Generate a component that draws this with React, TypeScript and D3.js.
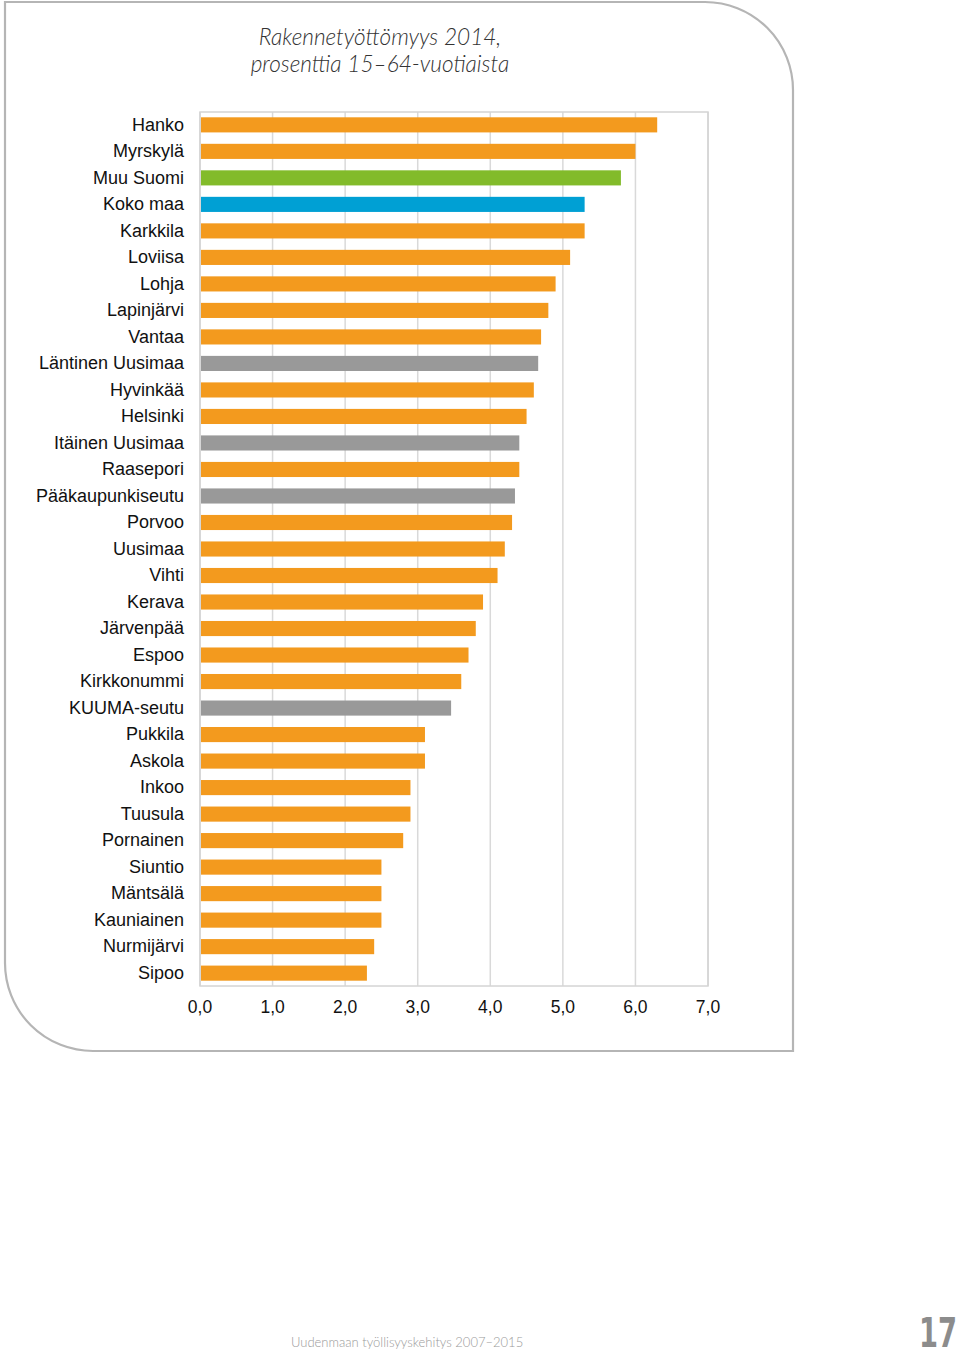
import React from "react";
import * as d3 from "d3";

const categories = [
  "Hanko", "Myrskylä", "Muu Suomi", "Koko maa", "Karkkila", "Loviisa", "Lohja",
  "Lapinjärvi", "Vantaa", "Läntinen Uusimaa", "Hyvinkää", "Helsinki",
  "Itäinen Uusimaa", "Raasepori", "Pääkaupunkiseutu", "Porvoo", "Uusimaa",
  "Vihti", "Kerava", "Järvenpää", "Espoo", "Kirkkonummi", "KUUMA-seutu",
  "Pukkila", "Askola", "Inkoo", "Tuusula", "Pornainen", "Siuntio", "Mäntsälä",
  "Kauniainen", "Nurmijärvi", "Sipoo",
];
const values = [
  6.3, 6.0, 5.8, 5.3, 5.3, 5.1, 4.9, 4.8, 4.7, 4.66, 4.6, 4.5, 4.4, 4.4, 4.34,
  4.3, 4.2, 4.1, 3.9, 3.8, 3.7, 3.6, 3.46, 3.1, 3.1, 2.9, 2.9, 2.8, 2.5, 2.5,
  2.5, 2.4, 2.3,
];
// group per bar: m = municipality, s = rest of Finland, k = whole country, r = region
const groups = [
  "m", "m", "s", "k", "m", "m", "m", "m", "m", "r", "m", "m", "r", "m", "r",
  "m", "m", "m", "m", "m", "m", "m", "r", "m", "m", "m", "m", "m", "m", "m",
  "m", "m", "m",
];
const xTicks = [0, 1, 2, 3, 4, 5, 6, 7];
const titleLines = ["Rakennetyöttömyys 2014,", "prosenttia 15–64-vuotiaista"];
const footerText = "Uudenmaan työllisyyskehitys 2007–2015";
const pageNumber = "17";

const colorOf: Record<string, string> = {
  m: "#f39a1e",
  s: "#82bb2a",
  k: "#00a0d4",
  r: "#999999",
};

export default function App() {
  const W = 960;
  const H = 1352;
  const left = 200;
  const right = 708;
  const top = 112;
  const bottom = 986;

  const x = d3.scaleLinear().domain([0, 7]).range([left, right]);
  const y = d3
    .scaleBand<string>()
    .domain(categories)
    .range([top, bottom])
    .paddingInner(0.43)
    .paddingOuter(0.2);

  // frame: rounded top-right and bottom-left corners
  const r = 88;
  const fx0 = 5, fy0 = 2, fx1 = 793, fy1 = 1051;
  const framePath = `M${fx0},${fy0} L${fx1 - r},${fy0} A${r},${r} 0 0 1 ${fx1},${fy0 + r} L${fx1},${fy1} L${fx0 + r},${fy1} A${r},${r} 0 0 1 ${fx0},${fy1 - r} Z`;

  const sans = "'Liberation Sans', Arial, sans-serif";

  return (
    <svg
      width={W}
      height={H}
      style={{ position: "absolute", left: 0, top: 0, background: "#fff" }}
    >
      <path d={framePath} fill="none" stroke="#b5b5b5" strokeWidth={2.2} />

      {titleLines.map((t, i) => (
        <text
          key={i}
          x={380}
          y={45 + i * 27}
          textAnchor="middle"
          fontFamily="Lato, 'Open Sans', sans-serif"
          fontStyle="italic"
          fontWeight={300}
          fontSize={22.6}
          fill="#333"
        >
          {t}
        </text>
      ))}

      {/* gridlines */}
      {xTicks.map((t) => (
        <line
          key={t}
          x1={x(t)}
          x2={x(t)}
          y1={top}
          y2={bottom}
          stroke="#d9d9d9"
          strokeWidth={1.5}
        />
      ))}
      <rect
        x={left}
        y={top}
        width={right - left}
        height={bottom - top}
        fill="none"
        stroke="#d4d4d4"
        strokeWidth={1.5}
      />

      {/* bars */}
      {categories.map((c, i) => (
        <rect
          key={c}
          x={x(0) + 1}
          y={y(c)}
          width={x(values[i]) - x(0) - 1}
          height={y.bandwidth()}
          fill={colorOf[groups[i]]}
        />
      ))}

      {/* category labels */}
      {categories.map((c) => (
        <text
          key={c}
          x={184}
          y={(y(c) ?? 0) + y.bandwidth() / 2 - 0.5}
          dy="0.35em"
          textAnchor="end"
          fontFamily={sans}
          fontSize={18}
          fill="#111"
        >
          {c}
        </text>
      ))}

      {/* x tick labels */}
      {xTicks.map((t) => (
        <text
          key={t}
          x={x(t)}
          y={1013}
          textAnchor="middle"
          fontFamily={sans}
          fontSize={17.5}
          fill="#111"
        >
          {d3.format(".1f")(t).replace(".", ",")}
        </text>
      ))}

      <text
        x={291}
        y={1347}
        fontFamily="Lato, 'Open Sans', sans-serif"
        fontWeight={300}
        fontSize={13}
        fill="#9a9a9a"
      >
        {footerText}
      </text>
      <text
        x={919}
        y={1347}
        fontFamily="'DejaVu Sans Condensed', 'DejaVu Sans', sans-serif"
        fontWeight={700}
        fontSize={41}
        fill="#8c8c8c"
        textLength={38}
        lengthAdjust="spacingAndGlyphs"
      >
        {pageNumber}
      </text>
    </svg>
  );
}
